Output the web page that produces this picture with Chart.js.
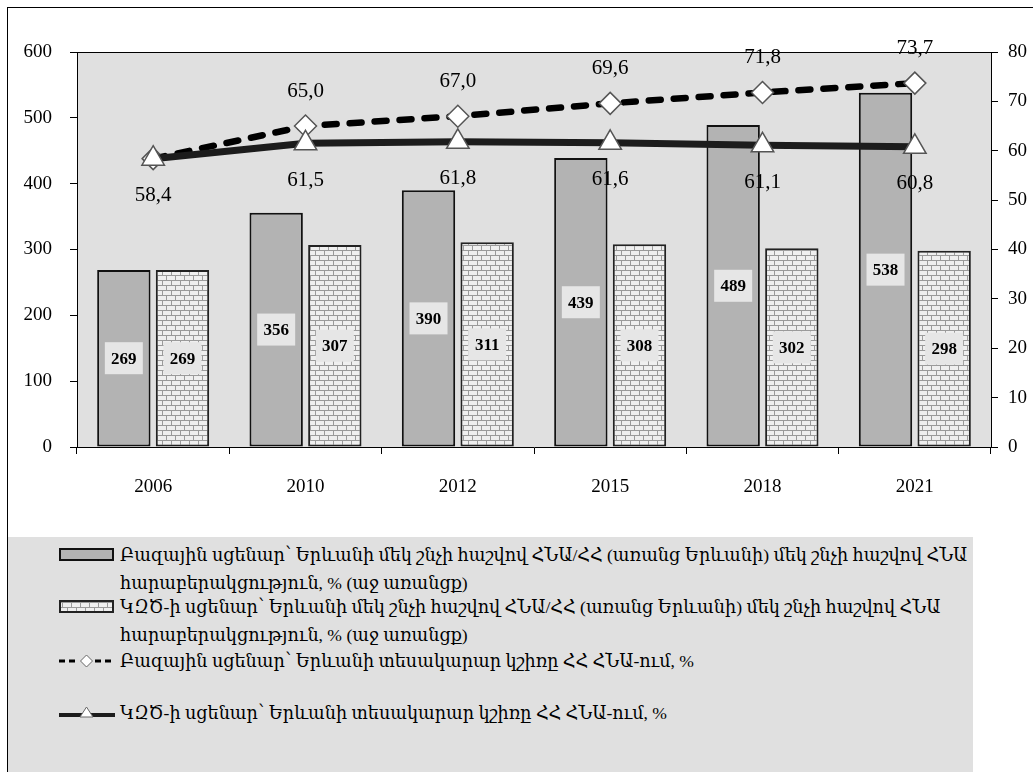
<!DOCTYPE html>
<html>
<head>
<meta charset="utf-8">
<script src="https://cdn.jsdelivr.net/npm/chart.js@4.4.1/dist/chart.umd.min.js"></script>
<style>
  body { margin: 0; width: 1033px; height: 772px; overflow: hidden; background: #fff; position: relative; }
  #frame { position: absolute; left: 7px; top: 7px; width: 1100px; height: 900px; border: 1px solid #000; }
  #chart { position: absolute; left: 0; top: 0; }
  #legend { position: absolute; left: 8px; top: 537px; width: 965px; height: 240px; background: #e0e0e0;
    font-family: "Liberation Serif", "DejaVu Serif", serif; font-size: 17.6px; color: #000; }
  .item { position: absolute; left: 0; width: 960px; }
  .item canvas { position: absolute; left: 50px; }
  .item .txt { position: absolute; left: 112px; top: 0; line-height: 28px; white-space: nowrap; }
</style>
</head>
<body>
<div id="frame"></div>
<canvas id="chart" width="1033" height="530"></canvas>
<div id="legend">
  <div class="item" style="top:4px"><canvas id="sym0" width="58" height="20" style="top:4px"></canvas>
    <div class="txt">Բազային սցենար՝ Երևանի մեկ շնչի հաշվով ՀՆԱ/ՀՀ (առանց Երևանի) մեկ շնչի հաշվով ՀՆԱ<br>հարաբերակցություն, % (աջ առանցք)</div></div>
  <div class="item" style="top:56px"><canvas id="sym1" width="58" height="20" style="top:4px"></canvas>
    <div class="txt">ԿԶԾ-ի սցենար՝ Երևանի մեկ շնչի հաշվով ՀՆԱ/ՀՀ (առանց Երևանի) մեկ շնչի հաշվով ՀՆԱ<br>հարաբերակցություն, % (աջ առանցք)</div></div>
  <div class="item" style="top:110px"><canvas id="sym2" width="58" height="20" style="top:4px"></canvas>
    <div class="txt">Բազային սցենար՝ Երևանի տեսակարար կշիռը ՀՀ ՀՆԱ-ում, %</div></div>
  <div class="item" style="top:162px"><canvas id="sym3" width="58" height="20" style="top:4px"></canvas>
    <div class="txt">ԿԶԾ-ի սցենար՝ Երևանի տեսակարար կշիռը ՀՀ ՀՆԱ-ում, %</div></div>
</div>
<script>
const years = ["2006", "2010", "2012", "2015", "2018", "2021"];
const baseGdpRatio = [269, 356, 390, 439, 489, 538];
const kzcGdpRatio = [269, 307, 311, 308, 302, 298];
const baseShare = [58.4, 65.0, 67.0, 69.6, 71.8, 73.7];
const kzcShare = [58.4, 61.5, 61.8, 61.6, 61.1, 60.8];
const leftTicks = [0, 100, 200, 300, 400, 500, 600];
const rightTicks = [0, 10, 20, 30, 40, 50, 60, 70, 80];

const tickFont = { family: "Liberation Serif", size: 19 };

function brickPattern(ctx) {
  const c = document.createElement("canvas");
  c.width = 18;
  c.height = 10;
  const g = c.getContext("2d");
  g.fillStyle = "#efefef";
  g.fillRect(0, 0, 18, 10);
  g.strokeStyle = "#9a9a9a";
  g.lineWidth = 1;
  g.beginPath();
  g.moveTo(0, 0.5); g.lineTo(18, 0.5);
  g.moveTo(0, 5.5); g.lineTo(18, 5.5);
  g.moveTo(0.5, 0); g.lineTo(0.5, 5);
  g.moveTo(9.5, 0); g.lineTo(9.5, 5);
  g.moveTo(4.5, 5); g.lineTo(4.5, 10);
  g.moveTo(13.5, 5); g.lineTo(13.5, 10);
  g.stroke();
  return ctx.createPattern(c, "repeat");
}

const fmt = (v) => v.toFixed(1).replace(".", ",");

const plotBackground = {
  id: "plotBackground",
  beforeDraw(chart) {
    const { ctx, chartArea: a } = chart;
    ctx.save();
    ctx.fillStyle = "#e0e0e0";
    ctx.fillRect(a.left, a.top, a.right - a.left, a.bottom - a.top);
    ctx.strokeStyle = "#000";
    ctx.lineWidth = 1;
    ctx.beginPath();
    ctx.moveTo(a.left, a.top + 0.5);
    ctx.lineTo(a.right, a.top + 0.5);
    ctx.stroke();
    ctx.restore();
  },
};

const valueLabels = {
  id: "valueLabels",
  afterDatasetsDraw(chart) {
    const ctx = chart.ctx;
    ctx.save();
    ctx.textAlign = "center";
    ctx.textBaseline = "middle";
    [0, 1].forEach((di) => {
      chart.getDatasetMeta(di).data.forEach((el, i) => {
        const cy = (el.y + el.base) / 2;
        ctx.fillStyle = "#e6e6e6";
        ctx.fillRect(el.x - 19, cy - 16, 38, 32);
        ctx.fillStyle = "#000";
        ctx.font = "bold 17px 'Liberation Serif'";
        ctx.fillText(chart.data.datasets[di].data[i], el.x, cy + 1);
      });
    });
    ctx.font = "21px 'Liberation Serif'";
    ctx.fillStyle = "#000";
    chart.getDatasetMeta(2).data.forEach((el, i) => {
      if (i === 0) return;
      ctx.fillText(fmt(baseShare[i]), el.x, el.y - 35);
    });
    chart.getDatasetMeta(3).data.forEach((el, i) => {
      ctx.fillText(fmt(kzcShare[i]), el.x, el.y + 37);
    });
    ctx.restore();
  },
};

const chartCtx = document.getElementById("chart").getContext("2d");
const hatch = brickPattern(chartCtx);

new Chart(chartCtx, {
  data: {
    labels: years,
    datasets: [
      {
        type: "bar",
        label: "base",
        data: baseGdpRatio,
        yAxisID: "y",
        backgroundColor: "#b3b3b3",
        borderColor: "#111",
        borderWidth: 2,
        borderSkipped: false,
        categoryPercentage: 0.77,
        barPercentage: 0.91,
        order: 2,
      },
      {
        type: "bar",
        label: "kzc",
        data: kzcGdpRatio,
        yAxisID: "y",
        backgroundColor: hatch,
        borderColor: "#222",
        borderWidth: 2,
        borderSkipped: false,
        categoryPercentage: 0.77,
        barPercentage: 0.91,
        order: 2,
      },
      {
        type: "line",
        label: "baseShare",
        data: baseShare,
        yAxisID: "y1",
        borderColor: "#000",
        borderWidth: 6.5,
        borderDash: [12, 13],
        borderCapStyle: "round",
        pointStyle: "rectRot",
        pointRadius: 11,
        pointBackgroundColor: "#fff",
        pointBorderColor: "#555",
        pointBorderWidth: 1.5,
        order: 1,
      },
      {
        type: "line",
        label: "kzcShare",
        data: kzcShare,
        yAxisID: "y1",
        borderColor: "#1c1c1c",
        borderWidth: 7,
        pointStyle: "triangle",
        pointRadius: 13,
        pointBackgroundColor: "#fff",
        pointBorderColor: "#555",
        pointBorderWidth: 1.5,
        order: 0,
      },
    ],
  },
  options: {
    responsive: false,
    animation: false,
    layout: { padding: { top: 52, left: 0, right: 0, bottom: 0 } },
    plugins: {
      legend: { display: false },
      tooltip: { enabled: false },
    },
    scales: {
      x: {
        offset: true,
        grid: { offset: true, drawOnChartArea: false, drawTicks: true, tickLength: 7, color: "#000" },
        border: { color: "#000", width: 1 },
        ticks: { font: tickFont, color: "#000", padding: 22 },
        afterFit: (scale) => { scale.height = 83; },
      },
      y: {
        position: "left",
        min: 0,
        max: 600,
        afterBuildTicks: (scale) => { scale.ticks = leftTicks.map((v) => ({ value: v })); },
        grid: { drawOnChartArea: false, tickLength: 7, color: "#000" },
        border: { color: "#000", width: 1 },
        ticks: { font: tickFont, color: "#000", padding: 18 },
        afterFit: (scale) => { scale.width = 77; },
      },
      y1: {
        position: "right",
        min: 0,
        max: 80,
        afterBuildTicks: (scale) => { scale.ticks = rightTicks.map((v) => ({ value: v })); },
        grid: { drawOnChartArea: false, tickLength: 7, color: "#000" },
        border: { color: "#000", width: 1 },
        ticks: { font: tickFont, color: "#000", padding: 10 },
        afterFit: (scale) => { scale.width = 42; },
      },
    },
  },
  plugins: [plotBackground, valueLabels],
});

// legend symbols
function sym(id, draw) {
  const g = document.getElementById(id).getContext("2d");
  draw(g);
}
sym("sym0", (g) => {
  g.fillStyle = "#b3b3b3";
  g.fillRect(2, 4, 53, 11);
  g.strokeStyle = "#111";
  g.lineWidth = 2;
  g.strokeRect(2, 4, 53, 11);
});
sym("sym1", (g) => {
  g.fillStyle = brickPattern(g);
  g.fillRect(2, 4, 53, 11);
  g.strokeStyle = "#222";
  g.lineWidth = 2;
  g.strokeRect(2, 4, 53, 11);
});
sym("sym2", (g) => {
  g.strokeStyle = "#000";
  g.lineWidth = 3;
  g.setLineDash([6, 4]);
  g.beginPath();
  g.moveTo(1, 10); g.lineTo(20, 10);
  g.moveTo(37, 10); g.lineTo(57, 10);
  g.stroke();
  g.setLineDash([]);
  g.fillStyle = "#fff";
  g.strokeStyle = "#666";
  g.lineWidth = 1;
  g.beginPath();
  g.moveTo(28.5, 4); g.lineTo(34.5, 10); g.lineTo(28.5, 16); g.lineTo(22.5, 10); g.closePath();
  g.fill(); g.stroke();
});
sym("sym3", (g) => {
  g.strokeStyle = "#1c1c1c";
  g.lineWidth = 4;
  g.beginPath();
  g.moveTo(1, 12); g.lineTo(57, 12);
  g.stroke();
  g.fillStyle = "#fff";
  g.strokeStyle = "#666";
  g.lineWidth = 1;
  g.beginPath();
  g.moveTo(28.5, 4); g.lineTo(35, 14); g.lineTo(22, 14); g.closePath();
  g.fill(); g.stroke();
});
</script>
</body>
</html>
